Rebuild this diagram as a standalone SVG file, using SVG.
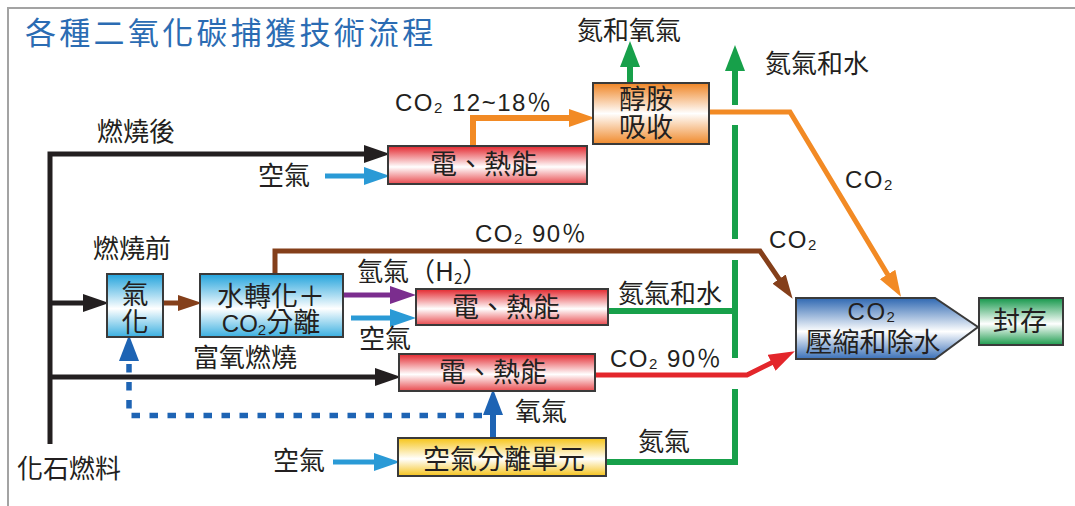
<svg xmlns="http://www.w3.org/2000/svg" width="1075" height="506" viewBox="0 0 1075 506">
<defs>
<style>
.t{font-family:"Noto Sans CJK TC","Noto Sans CJK SC",sans-serif;fill:#231f20}
.lbl{font-size:26px}
.bx{font-size:27px;text-anchor:middle}
.lat{font-family:"Liberation Sans","Noto Sans CJK TC",sans-serif;font-size:24px;letter-spacing:1.5px;fill:#231f20}
.sub{font-size:15px}
.node{stroke:#3a3a3a;stroke-width:2}
.ln{fill:none;stroke-linejoin:miter}
</style>
<linearGradient id="gRed" x1="0" y1="0" x2="0" y2="1"><stop offset="0" stop-color="#e3262d"/><stop offset="0.55" stop-color="#ffffff"/><stop offset="1" stop-color="#e84a4e"/></linearGradient>
<linearGradient id="gOrg" x1="0" y1="0" x2="0" y2="1"><stop offset="0" stop-color="#ef8424"/><stop offset="0.5" stop-color="#ffffff"/><stop offset="1" stop-color="#f08a2c"/></linearGradient>
<linearGradient id="gCyan" x1="0" y1="0" x2="0" y2="1"><stop offset="0" stop-color="#22a3dc"/><stop offset="0.55" stop-color="#ffffff"/><stop offset="1" stop-color="#3aafe0"/></linearGradient>
<linearGradient id="gYel" x1="0" y1="0" x2="0" y2="1"><stop offset="0" stop-color="#f6c417"/><stop offset="0.55" stop-color="#ffffff"/><stop offset="1" stop-color="#f5c31c"/></linearGradient>
<linearGradient id="gBlue" x1="0" y1="0" x2="0" y2="1"><stop offset="0" stop-color="#2f68b2"/><stop offset="0.55" stop-color="#ffffff"/><stop offset="1" stop-color="#3a70b8"/></linearGradient>
<linearGradient id="gGrn" x1="0" y1="0" x2="0" y2="1"><stop offset="0" stop-color="#14974a"/><stop offset="0.55" stop-color="#ffffff"/><stop offset="1" stop-color="#1d9c4e"/></linearGradient>
<marker id="aBlk" markerUnits="userSpaceOnUse" markerWidth="26" markerHeight="18" refX="12" refY="9" orient="auto"><path d="M0,0 L26,9 L0,18 z" fill="#231f20"/></marker>
<marker id="aSky" markerUnits="userSpaceOnUse" markerWidth="26" markerHeight="18" refX="12" refY="9" orient="auto"><path d="M0,0 L26,9 L0,18 z" fill="#2a9ad6"/></marker>
<marker id="aBrn" markerUnits="userSpaceOnUse" markerWidth="24" markerHeight="16" refX="11" refY="8" orient="auto"><path d="M0,0 L24,8 L0,16 z" fill="#843f1a"/></marker>
<marker id="aPur" markerUnits="userSpaceOnUse" markerWidth="26" markerHeight="18" refX="12" refY="9" orient="auto"><path d="M0,0 L26,9 L0,18 z" fill="#7b2d8e"/></marker>
<marker id="aGrn" markerUnits="userSpaceOnUse" markerWidth="26" markerHeight="20" refX="12" refY="10" orient="auto"><path d="M0,0 L26,10 L0,20 z" fill="#17a04a"/></marker>
<marker id="aOrg" markerUnits="userSpaceOnUse" markerWidth="26" markerHeight="18" refX="12" refY="9" orient="auto"><path d="M0,0 L26,9 L0,18 z" fill="#f28a24"/></marker>
<marker id="aRed" markerUnits="userSpaceOnUse" markerWidth="26" markerHeight="18" refX="12" refY="9" orient="auto"><path d="M0,0 L26,9 L0,18 z" fill="#e3262b"/></marker>
<marker id="aDbl" markerUnits="userSpaceOnUse" markerWidth="26" markerHeight="20" refX="12" refY="10" orient="auto"><path d="M0,0 L26,10 L0,20 z" fill="#1e64b4"/></marker>
</defs>
<rect x="0" y="0" width="1075" height="506" fill="#ffffff"/>
<path d="M8,506 V8 H1075" fill="none" stroke="#a3a3a3" stroke-width="2"/>
<text class="t" x="25" y="44" font-size="31" letter-spacing="3.3" style="fill:#2b6cb3">各種二氧化碳捕獲技術流程</text>

<g id="connectors">
<path class="ln" d="M50,444 V154 H376" stroke="#231f20" stroke-width="5" marker-end="url(#aBlk)"/>
<path class="ln" d="M50,303 H95" stroke="#231f20" stroke-width="5" marker-end="url(#aBlk)"/>
<path class="ln" d="M50,377 H387" stroke="#231f20" stroke-width="5" marker-end="url(#aBlk)"/>
<path class="ln" d="M325,176 H376" stroke="#2a9ad6" stroke-width="5" marker-end="url(#aSky)"/>
<path class="ln" d="M163,303 H189" stroke="#843f1a" stroke-width="5" marker-end="url(#aBrn)"/>
<path class="ln" d="M275,274 V251 H760 L785.3,288.1" stroke="#843f1a" stroke-width="5" marker-end="url(#aBrn)"/>
<path class="ln" d="M343,295 H402" stroke="#7b2d8e" stroke-width="5" marker-end="url(#aPur)"/>
<path class="ln" d="M351,318 H402" stroke="#2a9ad6" stroke-width="5" marker-end="url(#aSky)"/>
<path class="ln" d="M608,311 H735" stroke="#17a04a" stroke-width="6"/>
<path class="ln" d="M735,105 V59" stroke="#17a04a" stroke-width="6" marker-end="url(#aGrn)"/>
<path class="ln" d="M735,239 V125" stroke="#17a04a" stroke-width="6"/>
<path class="ln" d="M735,358 V260" stroke="#17a04a" stroke-width="6"/>
<path class="ln" d="M606,462 H735 V389" stroke="#17a04a" stroke-width="6"/>
<path class="ln" d="M630,83 V55" stroke="#17a04a" stroke-width="6" marker-end="url(#aGrn)"/>
<path class="ln" d="M473,146 V118 H581" stroke="#f28a24" stroke-width="6" marker-end="url(#aOrg)"/>
<path class="ln" d="M709,112 H790 L893.8,284.7" stroke="#f28a24" stroke-width="5" marker-end="url(#aOrg)"/>
<path class="ln" d="M595,375 H747 L782.3,357.4" stroke="#e3262b" stroke-width="5" marker-end="url(#aRed)"/>
<path class="ln" d="M493,438 V403" stroke="#1e64b4" stroke-width="6" marker-end="url(#aDbl)"/>
<path class="ln" d="M482,415.5 H129 V349" stroke="#1e64b4" stroke-width="5.5" stroke-dasharray="8.5 9.5" marker-end="url(#aDbl)"/>
<path class="ln" d="M333,462 H386" stroke="#2a9ad6" stroke-width="5" marker-end="url(#aSky)"/>
</g>

<g id="labels">
<text class="t lbl" x="97" y="141">燃燒後</text>
<text class="t lbl" x="258" y="185">空氣</text>
<text class="t lbl" x="93" y="258">燃燒前</text>
<text class="t lbl" x="357" y="281">氫氣（H<tspan class="sub" dy="3">2</tspan><tspan dy="-3">）</tspan></text>
<text class="t lbl" x="618" y="303">氮氣和水</text>
<text class="t lbl" x="359" y="348">空氣</text>
<text class="t lbl" x="193" y="367">富氧燃燒</text>
<text class="t lbl" x="515" y="421">氧氣</text>
<text class="t lbl" x="638" y="451">氮氣</text>
<text class="t lbl" x="273" y="470">空氣</text>
<text class="t lbl" x="17" y="478">化石燃料</text>
<text class="t lbl" x="577" y="40">氮和氧氣</text>
<text class="t lbl" x="765" y="73">氮氣和水</text>
<text class="lat" x="395" y="111">CO<tspan class="sub" dy="2">2</tspan><tspan dy="-2"> 12~18％</tspan></text>
<text class="lat" x="475" y="242">CO<tspan class="sub" dy="2">2</tspan><tspan dy="-2"> 90％</tspan></text>
<text class="lat" x="769" y="248">CO<tspan class="sub" dy="2">2</tspan></text>
<text class="lat" x="845" y="188">CO<tspan class="sub" dy="2">2</tspan></text>
<text class="lat" x="610" y="367">CO<tspan class="sub" dy="2">2</tspan><tspan dy="-2"> 90％</tspan></text>
</g>

<g id="node-power-post">
<rect class="node" x="388" y="146" width="199" height="38" fill="url(#gRed)"/>
<text class="t bx" x="484" y="174">電、熱能</text>
</g>
<g id="node-amine">
<rect class="node" x="593" y="83" width="116" height="61" fill="url(#gOrg)"/>
<text class="t bx" x="646" y="109">醇胺</text>
<text class="t bx" x="646" y="137">吸收</text>
</g>
<g id="node-gasify">
<rect class="node" x="107" y="274" width="56" height="63" fill="url(#gCyan)"/>
<text class="t bx" x="135" y="304">氣</text>
<text class="t bx" x="135" y="332">化</text>
</g>
<g id="node-shift">
<rect class="node" x="200" y="274" width="143" height="63" fill="url(#gCyan)"/>
<text class="t bx" x="271" y="306">水轉化＋</text>
<text class="t bx" x="271" y="332"><tspan font-family="Liberation Sans" font-size="24">CO</tspan><tspan font-family="Liberation Sans" font-size="15" dy="3">2</tspan><tspan dy="-3">分離</tspan></text>
</g>
<g id="node-power-pre">
<rect class="node" x="416" y="289" width="192" height="36" fill="url(#gRed)"/>
<text class="t bx" x="506" y="317">電、熱能</text>
</g>
<g id="node-power-oxy">
<rect class="node" x="399" y="354" width="196" height="37" fill="url(#gRed)"/>
<text class="t bx" x="493" y="382">電、熱能</text>
</g>
<g id="node-asu">
<rect class="node" x="398" y="438" width="208" height="38" fill="url(#gYel)"/>
<text class="t bx" x="504" y="469">空氣分離單元</text>
</g>
<g id="node-compress">
<path class="node" d="M796,298 H935 L978,327 L935,359 H796 Z" fill="url(#gBlue)"/>
<text class="lat" x="872" y="320" text-anchor="middle">CO<tspan class="sub" dy="2">2</tspan></text>
<text class="t bx" x="873" y="352">壓縮和除水</text>
</g>
<g id="node-storage">
<rect class="node" x="979" y="298" width="84" height="47" fill="url(#gGrn)"/>
<text class="t bx" x="1020" y="331">封存</text>
</g>
</svg>
